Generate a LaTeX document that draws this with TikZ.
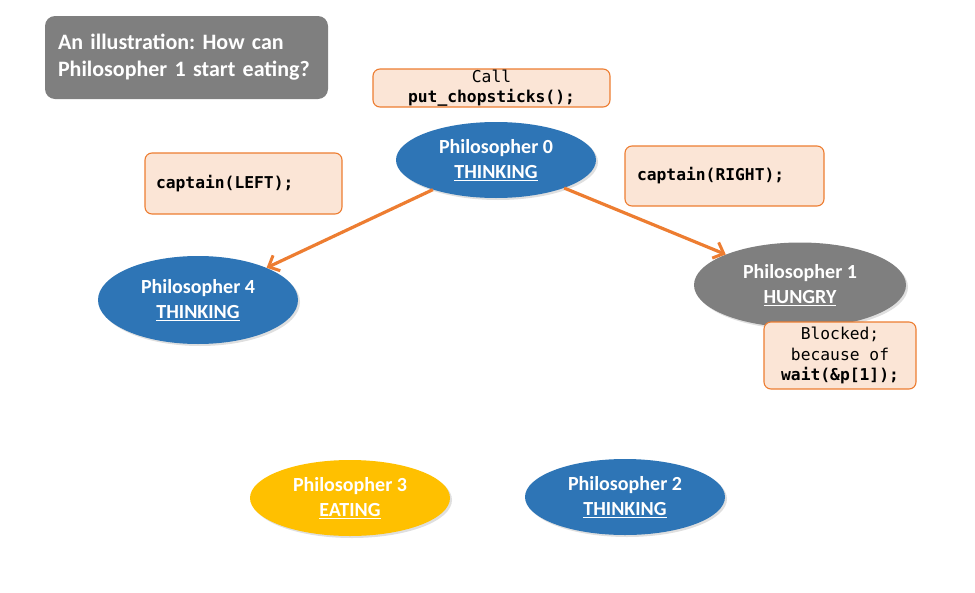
\documentclass[tikz,border=0pt]{standalone}
\usepackage{fontspec}
\setmainfont{Carlito}
\setmonofont{DejaVu Sans Mono}
\usetikzlibrary{shapes.geometric,arrows.meta,shadows}
\frenchspacing

\definecolor{philblue}{HTML}{2E75B6}
\definecolor{philgray}{HTML}{7F7F7F}
\definecolor{philgold}{HTML}{FFC000}
\definecolor{notefill}{HTML}{FBE5D6}
\definecolor{noteedge}{HTML}{ED7D31}

\begin{document}
\begin{tikzpicture}[x=1pt, y=-1pt]
    % Node styles
    \tikzstyle{phil node}=[ellipse, minimum width=200pt, minimum height=76pt, inner sep=0pt,
        text=white, align=center, font=\fontsize{20}{25}\selectfont\bfseries,
        drop shadow={shadow xshift=2pt, shadow yshift=-2pt, opacity=0.25}]
    \tikzstyle{note box}=[draw=noteedge, fill=notefill, line width=1.1pt, rounded corners=7pt,
        font=\fontsize{16.3}{20.5}\selectfont\ttfamily, inner sep=0pt]
    \tikzstyle{call arrow}=[draw=noteedge, line width=3.2pt,
        -{Straight Barb[length=9pt, width=17pt, line width=3pt]}]

    \useasboundingbox (0,0) rectangle (975,592);

    % --- Title ---
    \node[fill=philgray, rounded corners=10pt, minimum width=283pt, minimum height=83pt,
        text=white, align=left, font=\fontsize{22}{27}\selectfont\bfseries,
        text width=257pt] (title) at (186.5,57.5)
        {An illustration: How can\\Philosopher 1 start eating?};

    % --- Philosophers ---
    \node[phil node, fill=philblue] (phil0) at (496,160) {Philosopher 0\\\underline{THINKING}};
    \node[phil node, fill=philblue, minimum height=88pt] (phil4) at (198,300) {Philosopher 4\\\underline{THINKING}};
    \node[phil node, fill=philgray, minimum width=212pt, minimum height=85pt] (phil1) at (800,285) {Philosopher 1\\\underline{HUNGRY}};
    \node[phil node, fill=philgold] (phil3) at (350,498) {Philosopher 3\\\underline{EATING}};
    \node[phil node, fill=philblue] (phil2) at (625,497) {Philosopher 2\\\underline{THINKING}};

    % --- Notes ---
    \node[note box, minimum width=237pt, minimum height=38pt, align=center] (callbox) at (491.5,88)
        {Call\\\textbf{put\_chopsticks();}};
    \node[note box, minimum width=197pt, minimum height=61pt, align=left, text width=175pt] (leftbox) at (243.5,183.5)
        {\textbf{captain(LEFT);}};
    \node[note box, minimum width=199pt, minimum height=60pt, align=left, text width=175pt] (rightbox) at (724.5,176)
        {\textbf{captain(RIGHT);}};
    \node[note box, minimum width=152pt, minimum height=67pt, align=center] (blockbox) at (840,355.5)
        {Blocked;\\because of\\\textbf{wait(\&p[1]);}};

    % --- Calls from Philosopher 0 ---
    \draw[call arrow] (phil0) -- (phil4);
    \draw[call arrow] (phil0) -- (phil1);

\end{tikzpicture}
\end{document}
